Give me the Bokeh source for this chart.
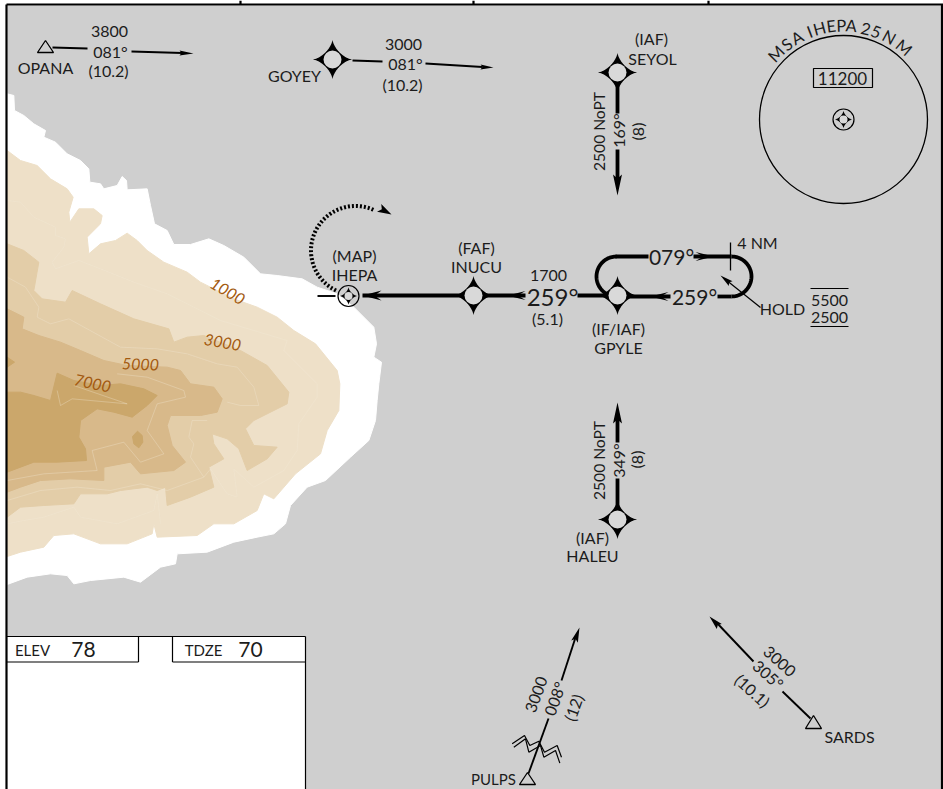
import numpy as np
from bokeh.plotting import figure
from bokeh.core.properties import value
from bokeh.embed import file_html
from bokeh.resources import INLINE

FONT = "Lato"
BG = "#cfcfcf"
INK = "#1c1c1c"

# terrain (crop units: x/3, 90 + y/3)
land_white = [(20,10),(40,15),(42,60),(70,75),(100,100),(135,120),(130,140),(165,155),(200,190),(240,210),(265,235),(268,275),(300,280),(310,295),(350,285),(365,258),(378,270),(380,298),(440,295),(450,345),(462,400),(500,420),(520,462),(570,462),(625,445),(670,465),(730,500),(780,550),(830,555),(905,565),(950,590),(1010,610),(1060,650),(1120,710),(1128,760),(1120,800),(1143,815),(1135,880),(1130,930),(1125,990),(1105,1050),(1050,1100),(975,1170),(920,1190),(870,1245),(855,1300),(820,1330),(770,1340),(700,1355),(620,1385),(530,1390),(525,1420),(480,1430),(420,1475),(370,1460),(270,1470),(220,1480),(200,1455),(150,1450),(80,1460),(20,1482)]
land_1000 = [(20,180),(60,210),(110,225),(150,265),(200,295),(218,320),(205,365),(208,395),(235,355),(280,355),(305,375),(300,400),(260,440),(265,490),(300,460),(345,450),(380,428),(410,450),(440,480),(490,515),(560,545),(600,575),(650,600),(700,625),(770,650),(830,680),(880,720),(945,760),(1010,840),(1018,880),(1015,960),(980,1020),(960,1090),(885,1150),(820,1225),(790,1210),(770,1260),(700,1300),(640,1300),(590,1335),(470,1340),(460,1300),(455,1330),(380,1360),(300,1360),(220,1330),(160,1335),(130,1370),(60,1385),(20,1398)]
land_3000 = [(20,460),(70,480),(115,515),(100,600),(125,625),(195,635),(215,600),(300,640),(400,685),(505,715),(520,755),(560,740),(610,735),(720,780),(800,825),(865,905),(860,940),(800,970),(760,990),(735,1015),(760,1065),(830,1070),(800,1105),(740,1140),(715,1075),(680,1045),(635,1030),(640,1060),(670,1105),(625,1130),(640,1190),(570,1220),(500,1245),(495,1190),(470,1200),(440,1190),(360,1200),(320,1210),(240,1210),(220,1240),(130,1245),(60,1250),(20,1280)]
land_5000 = [(20,655),(70,680),(65,715),(115,735),(180,755),(240,780),(310,810),(380,825),(500,830),(540,840),(570,880),(640,890),(665,925),(650,965),(600,975),(510,975),(500,1005),(515,1065),(555,1115),(520,1140),(420,1150),(390,1115),(310,1130),(310,1170),(210,1165),(120,1170),(60,1190),(20,1205)]
land_7000 = [(20,905),(60,905),(100,915),(150,930),(170,848),(220,870),(300,885),(360,880),(430,895),(470,915),(440,945),(395,980),(340,965),(290,955),(240,990),(235,1040),(255,1075),(258,1110),(170,1115),(100,1115),(20,1145)]
land_7000_b = [(20,800),(42,815),(20,830)]
land_7000_c = [(411,1022),(425,1035),(427,1055),(415,1072),(400,1060),(396,1038)]
contours = [
    [(20,330),(60,335),(100,380),(165,410),(165,435),(195,445),(190,470),(155,515),(165,535),(235,510),(300,535),(400,575),(500,610),(580,650),(660,690),(760,720),(860,750),(850,780),(950,880),(950,920),(895,1000),(890,1080),(850,1140),(760,1190),(700,1135),(710,1220),(680,1210),(630,1135),(610,1160),(570,1100),(580,1060),(565,1040),(575,990),(620,990)],
    [(20,560),(75,590),(115,650),(110,680),(150,700),(205,685),(360,770),(470,775),(560,790),(650,820),(710,830),(760,890),(775,945),(720,945),(680,935)],
    [(20,1300),(70,1290),(130,1280),(220,1250),(240,1280),(350,1300),(460,1260),(470,1210),(480,1300)],
    [(20,1170),(130,1150),(290,1140),(275,1080),(370,1055),(420,1115),(490,1090),(440,1020),(470,940),(555,920),(550,900),(440,860),(350,850)],
    [(170,900),(180,945),(215,925),(380,940),(220,885)],
    [(20,1230),(120,1200),(230,1190),(330,1200),(420,1180),(500,1200),(610,1160)],
]

# frame
frame_lines = [(6,4,6,789),(6,4,943,4),(941.5,4,941.5,789),(240,0,240,4),(473,0,473,4),(708,0,708,4)]
notes_box = (6,636,305,789)
box_lines = [(6,636,305,636),(305,636,305,789),(6,661.5,138,661.5),(138,636,138,661.5),(172,636,172,661.5),(172,661.5,305,661.5)]

# waypoints
fixes_x = [332,617,473,617,617]
fixes_y = [59,72,295,295,519]

# track legs
thick_legs = [(577,295,617,295),(362,295,525,295),(617,72,617,113),(617,149,617,179),(617,519,617,478),(617,418,617,442),(615,256,648,256),(693,256,731,256),(670,296,617,296),(717,296,731,296)]
thin_legs = [(52,47,87,48),(131,51,182,52.5),(352,60,382,61),(425,63,482,66.5),(528,773,548,718),(561,680,575,637),(810,718,782,691),(753,661,716,622),(317,295.5,335,295.5)]
hold_arc_right = (731,276,20)
hold_arc_left = (616,276,20)
tick_4nm = (730,242,730,270)
hold_leader = (760,307,725,279)
hold_over = (810,288,848,288)
hold_under = (810,326,848,326)
missed_arc = (355,250,44.5)

# arrows: tip x, tip y, direction x, direction y, length, half width, notch
arrows = [
    (193,53,1,0.03,14,2.5,12),(493,67,1,0.04,13,2.5,11),
    (617,195,0,1,21,4.5,17),(617,402,0,-1,21,4.5,17),
    (362,295,-1,0,19,5,12),(507,295,-1,0,18,4.5,10),(650,296,-1,0,18,4.5,10),(713,256,1,0,18,4.5,10),
    (579,627,0.33,-0.94,15,3.5,12),(709,616,-0.7,-0.72,14,3.5,12),(720,275,-0.78,-0.62,13,3,11),
    (391,214,0.88,0.47,14,4.5,11),
]

# triangles: apex x, apex y, half width, height
triangles = [(45,40,8,12),(527,772,8,12),(813,715,8,13)]

# MEA break marks
zig_a = [(155,400),(192,375),(208,405),(235,392),(252,425),(290,405),(303,440)]
zig_b = [(160,410),(195,385),(205,425),(240,405),(250,440),(285,420),(298,458)]

# MSA circle
msa_x, msa_y, msa_r = 843, 119, 84
msa_box = (813,68,872,87)
msa_chars = list("MSAIHEPA25NM")
msa_angles = [-45.7,-37,-29.5,-21,-14.8,-7.5,-1.4,4.7,13.8,20.4,29,40]
msa_label_r = 94

# labels: text, x, y, size, rotation deg
labels = [
    ("3800",109,31,16,0),("081°",110,51,16,0),("(10.2)",108,70,16,0),("OPANA",45,67,16,0),
    ("GOYEY",294,75,16,0),("3000",403,44,16,0),("081°",405,63,16,0),("(10.2)",402,84,16,0),
    ("(IAF)",651,38,16,0),("SEYOL",652,58,16,0),
    ("2500 NoPT",598,131,15.6,90),("169°",618,130,16,90),("(8)",637,131,16,90),
    ("2500 NoPT",598,460,15.6,90),("349°",618,460,16,90),("(8)",636,459,16,90),
    ("(IAF)",592,537,16,0),("HALEU",592,555,16,0),
    ("(MAP)",354,255,16,0),("IHEPA",354,274,16,0),("(FAF)",476,247,16,0),("INUCU",476,266,16,0),
    ("1700",548,275,16,0),("259°",552,296,24,0),("(5.1)",547,318,16,0),
    ("(IF/IAF)",618,328,16,0),("GPYLE",618,347,16,0),
    ("079°",671,256,21,0),("259°",694,296,21,0),("4 NM",757,242,16,0),
    ("HOLD",782,308,16,0),("5500",829,300,16,0),("2500",829,317,16,0),
    ("11200",842,78,17,0),
    ("3000",536,694,16,70),("008°",554,698,16,70),("(12)",573,707,16,70),("PULPS",493,778,15,0),
    ("3000",779,661,16,-42),("305°",768,674,16,-42),("(10.1)",752,690,16,-42),("SARDS",849,736,16,0),
    ("ELEV",32,649,15,0),("78",83,649,21,0),("TDZE",203,649,15,0),("70",250,649,21,0),
]
contour_labels = [("1000",227,291,-30),("3000",222,342,-10),("5000",140,364,-2),("7000",92,383,-12)]
LAND_COLORS = ["#ffffff","#eee0c8","#e3cda8","#d8b98a","#cba76b"]

p = figure(width=943, height=789, x_range=(0,943), y_range=(789,0), output_backend="svg",
           toolbar_location=None, min_border=0, outline_line_color=None, background_fill_color="white", border_fill_color="white")
p.axis.visible = False
p.grid.visible = False
p.styles = {"position": "absolute", "left": "0px", "top": "0px"}

def crop(pts):
    return [x/3 for x, y in pts], [90 + y/3 for x, y in pts]

def seg(lines, width, color="black", cap="butt"):
    a = np.array(lines, dtype=float)
    p.segment(a[:,0], a[:,1], a[:,2], a[:,3], line_width=width, line_color=color, line_cap=cap)

p.quad(left=[7], right=[941], top=[5], bottom=[789], fill_color=BG, line_color=None)

for poly, col in zip([land_white, land_1000, land_3000, land_5000, land_7000, land_7000_b, land_7000_c],
                     LAND_COLORS + [LAND_COLORS[4], LAND_COLORS[4]]):
    xs, ys = crop(poly)
    p.patch(xs, ys, fill_color=col, line_color=col, line_width=1, line_join="round")
for c in contours:
    xs, ys = crop(c)
    p.line(xs, ys, line_color="#f3e9d8", line_width=0.6, line_alpha=0.55)

l, t, r, b = notes_box
p.quad(left=[l], right=[r], top=[t], bottom=[b], fill_color="white", line_color=None)
seg(box_lines, 1.2)
seg(frame_lines, 2.2)

# tracks
seg(thick_legs, 3.8)
seg(thin_legs, 1.9)
seg([tick_4nm], 1.3)
seg([hold_leader], 1.3)
seg([hold_over, hold_under], 1.2)

for (cx, cy, r0), a0, a1 in [(hold_arc_right, -90, 90), (hold_arc_left, -90, -250)]:
    a = np.radians(np.linspace(a0, a1, 50))
    p.line(cx + r0*np.cos(a), cy + r0*np.sin(a), line_width=3.8, line_color="black")
a = np.radians(np.linspace(116, 295, 90))
p.line(missed_arc[0] + missed_arc[2]*np.cos(a), missed_arc[1] + missed_arc[2]*np.sin(a),
       line_width=4, line_color="black", line_dash="2 2")

for tx, ty, dx, dy, ln, hw, nt in arrows:
    n = np.hypot(dx, dy); dx, dy = dx/n, dy/n; nx, ny = -dy, dx
    p.patch([tx, tx-dx*ln+nx*hw, tx-dx*nt, tx-dx*ln-nx*hw],
            [ty, ty-dy*ln+ny*hw, ty-dy*nt, ty-dy*ln-ny*hw], fill_color="black", line_color=None)

for ax, ay, hw, h in triangles:
    p.patch([ax, ax+hw, ax-hw], [ay, ay+h, ay+h], fill_color=BG, line_color="black", line_width=1.3)

for z in (zig_a, zig_b):
    p.line([460 + x/3 for x, y in z], [610 + y/3 for x, y in z], line_color="black", line_width=1.2)

# fix symbols
T = np.linspace(0, 2*np.pi, 161)
R = 20
for fx, fy in zip(fixes_x, fixes_y):
    p.patch(fx + R*np.sign(np.cos(T))*np.abs(np.cos(T))**3, fy + R*np.sign(np.sin(T))*np.abs(np.sin(T))**3,
            fill_color="black", line_color=None)
    p.circle([fx], [fy], radius=9, fill_color="#d9d9d9", line_color=None)

# small navaid symbols
for nx0, ny0 in [(348, 295.5), (msa_x, msa_y)]:
    p.circle([nx0], [ny0], radius=10.5, fill_color=BG if nx0 > 400 else None, line_color="black", line_width=1.2)
    p.patch(nx0 + 9*np.sign(np.cos(T))*np.abs(np.cos(T))**3, ny0 + 9*np.sign(np.sin(T))*np.abs(np.sin(T))**3,
            fill_color="black", line_color=None)
    p.circle([nx0], [ny0], radius=4, fill_color="#d9d9d9", line_color=None)

# MSA
p.circle([msa_x], [msa_y], radius=msa_r, fill_color=None, line_color="black", line_width=1.3)
l, t, r, b = msa_box
p.quad(left=[l], right=[r], top=[t], bottom=[b], fill_color=None, line_color="black", line_width=1.2)
ang = np.radians(msa_angles)
p.text(msa_x + msa_label_r*np.sin(ang), msa_y - msa_label_r*np.cos(ang), text=msa_chars, angle=-ang,
       text_font=value(FONT), text_font_size="16.5px", text_align="center", text_baseline="middle", text_color=INK)

# text
for s, x, y, size, rot in labels:
    p.text([x], [y], text=[s], angle=np.radians(rot), text_font=value(FONT), text_font_size=f"{size}px",
           text_align="center", text_baseline="middle", text_color=INK)
for s, x, y, rot in contour_labels:
    p.text([x], [y], text=[s], angle=np.radians(rot), text_font=value(FONT), text_font_size="16px",
           text_font_style="italic", text_align="center", text_baseline="middle", text_color="#a35a10")

open("out.html", "w").write(file_html(p, INLINE))
